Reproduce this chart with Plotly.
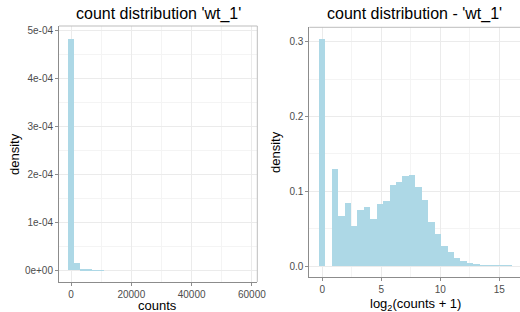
import numpy as np
import plotly.graph_objects as go

# ---- data ----
raw_bin_width = 1993.0
raw_density = [4.82e-4, 1.45e-5, 3.0e-6, 1.0e-6, 5e-7, 3e-7, 0, 0, 0, 0,
               0, 0, 0, 0, 0, 0, 0, 0, 0, 0,
               0, 0, 0, 0, 0, 0, 0, 0, 0, 0]

log_bin_width = 0.5455
log_density = [0.303, 0.0, 0.130, 0.067, 0.084, 0.053, 0.075, 0.078, 0.0625, 0.083,
               0.0866, 0.1075, 0.112, 0.120, 0.122, 0.105, 0.088, 0.058, 0.042, 0.026,
               0.018, 0.010, 0.0067, 0.004, 0.0022, 0.0009, 0.0004, 0.0002, 0.0001, 0.00005]

left_title = "count distribution 'wt_1'"
right_title = "count distribution - 'wt_1'"
left_xlabel = "counts"
right_xlabel = "log<sub>2</sub>(counts + 1)"
ylabel = "density"
left_xticks = [0, 20000, 40000, 60000]
left_yticks = [0, 1e-4, 2e-4, 3e-4, 4e-4, 5e-4]
left_yticklabels = ["0e+00", "1e-04", "2e-04", "3e-04", "4e-04", "5e-04"]
right_xticks = [0, 5, 10, 15]
right_yticks = [0.0, 0.1, 0.2, 0.3]
right_yticklabels = ["0.0", "0.1", "0.2", "0.3"]

raw_centers = np.arange(len(raw_density)) * raw_bin_width
log_centers = np.arange(len(log_density)) * log_bin_width

FILL = "#ADD8E6"
FONT = "Liberation Sans, Arial, Helvetica, sans-serif"
TICKC = "#4d4d4d"
LINEC = "#8c8c8c"
GRID = "#ebebeb"
MINOR = "#f4f4f4"

W, H = 520, 312
def px(v):
    return v / W
def py(v):
    return 1 - v / H

fig = go.Figure()
fig.add_trace(go.Bar(x=raw_centers, y=raw_density, width=raw_bin_width,
                     marker=dict(color=FILL, line=dict(width=0)),
                     xaxis="x", yaxis="y", showlegend=False, hoverinfo="skip"))
fig.add_trace(go.Bar(x=log_centers, y=log_density, width=log_bin_width,
                     marker=dict(color=FILL, line=dict(width=0)),
                     xaxis="x2", yaxis="y2", showlegend=False, hoverinfo="skip"))

axis_common = dict(showline=True, linecolor=LINEC, linewidth=1, automargin=False,
                   ticks="outside", ticklen=3, tickcolor=LINEC, tickwidth=1,
                   tickfont=dict(family=FONT, size=10, color=TICKC),
                   showgrid=True, gridcolor=GRID, gridwidth=1, zeroline=False)

fig.update_layout(
    template="none",
    width=W, height=H, margin=dict(l=0, r=0, t=0, b=0, pad=0),
    paper_bgcolor="white", plot_bgcolor="white", bargap=0,
    font=dict(family=FONT),
    xaxis=dict(axis_common, domain=[px(59), px(257.3)], anchor="y",
               range=[-3980, 61790], tickvals=left_xticks,
               ticktext=[str(v) for v in left_xticks],
               minor=dict(showgrid=True, gridcolor=MINOR, gridwidth=0.6,
                          tickvals=[10000, 30000, 50000], ticks="")),
    yaxis=dict(axis_common, domain=[py(282), py(26)], anchor="x",
               range=[-0.244e-4, 5.09e-4], tickvals=left_yticks,
               ticktext=left_yticklabels,
               minor=dict(showgrid=True, gridcolor=MINOR, gridwidth=0.6,
                          tickvals=[0.5e-4, 1.5e-4, 2.5e-4, 3.5e-4, 4.5e-4], ticks="")),
    xaxis2=dict(axis_common, domain=[px(309.3), 1.0], anchor="y2",
                range=[-1.10, 16.75], tickvals=right_xticks,
                ticktext=[str(v) for v in right_xticks],
                minor=dict(showgrid=True, gridcolor=MINOR, gridwidth=0.6,
                           tickvals=[2.5, 7.5, 12.5], ticks="")),
    yaxis2=dict(axis_common, domain=[py(276.7), py(27.3)], anchor="x2",
                range=[-0.0143, 0.3195], tickvals=right_yticks,
                ticktext=right_yticklabels,
                minor=dict(showgrid=True, gridcolor=MINOR, gridwidth=0.6,
                           tickvals=[0.05, 0.15, 0.25], ticks="")),
)

# panel borders (top / right) in lighter grey
fig.add_shape(type="line", xref="x domain", yref="y domain", x0=0, x1=1, y0=1, y1=1,
              line=dict(color="#bdbdbd", width=1))
fig.add_shape(type="line", xref="x domain", yref="y domain", x0=1, x1=1, y0=0, y1=1,
              line=dict(color="#bdbdbd", width=1))
fig.add_shape(type="line", xref="x2 domain", yref="y2 domain", x0=0, x1=1, y0=1, y1=1,
              line=dict(color="#bdbdbd", width=1))

def label(text, x, y, size, angle=0):
    fig.add_annotation(text=text, xref="paper", yref="paper", x=px(x), y=py(y),
                       xanchor="center", yanchor="middle", showarrow=False,
                       textangle=angle, font=dict(family=FONT, size=size, color="#000000"))

label(left_title, 158, 14, 16)
label(right_title, 414.5, 14, 16)
label(left_xlabel, 157.5, 305, 13)
label(right_xlabel, 415.5, 304, 13)
label(ylabel, 14, 154, 13, -90)
label(ylabel, 275, 152, 13, -90)

fig.write_html("out.html", config={"displayModeBar": False},
               post_script="document.body.style.margin='0';document.body.style.padding='0';")
